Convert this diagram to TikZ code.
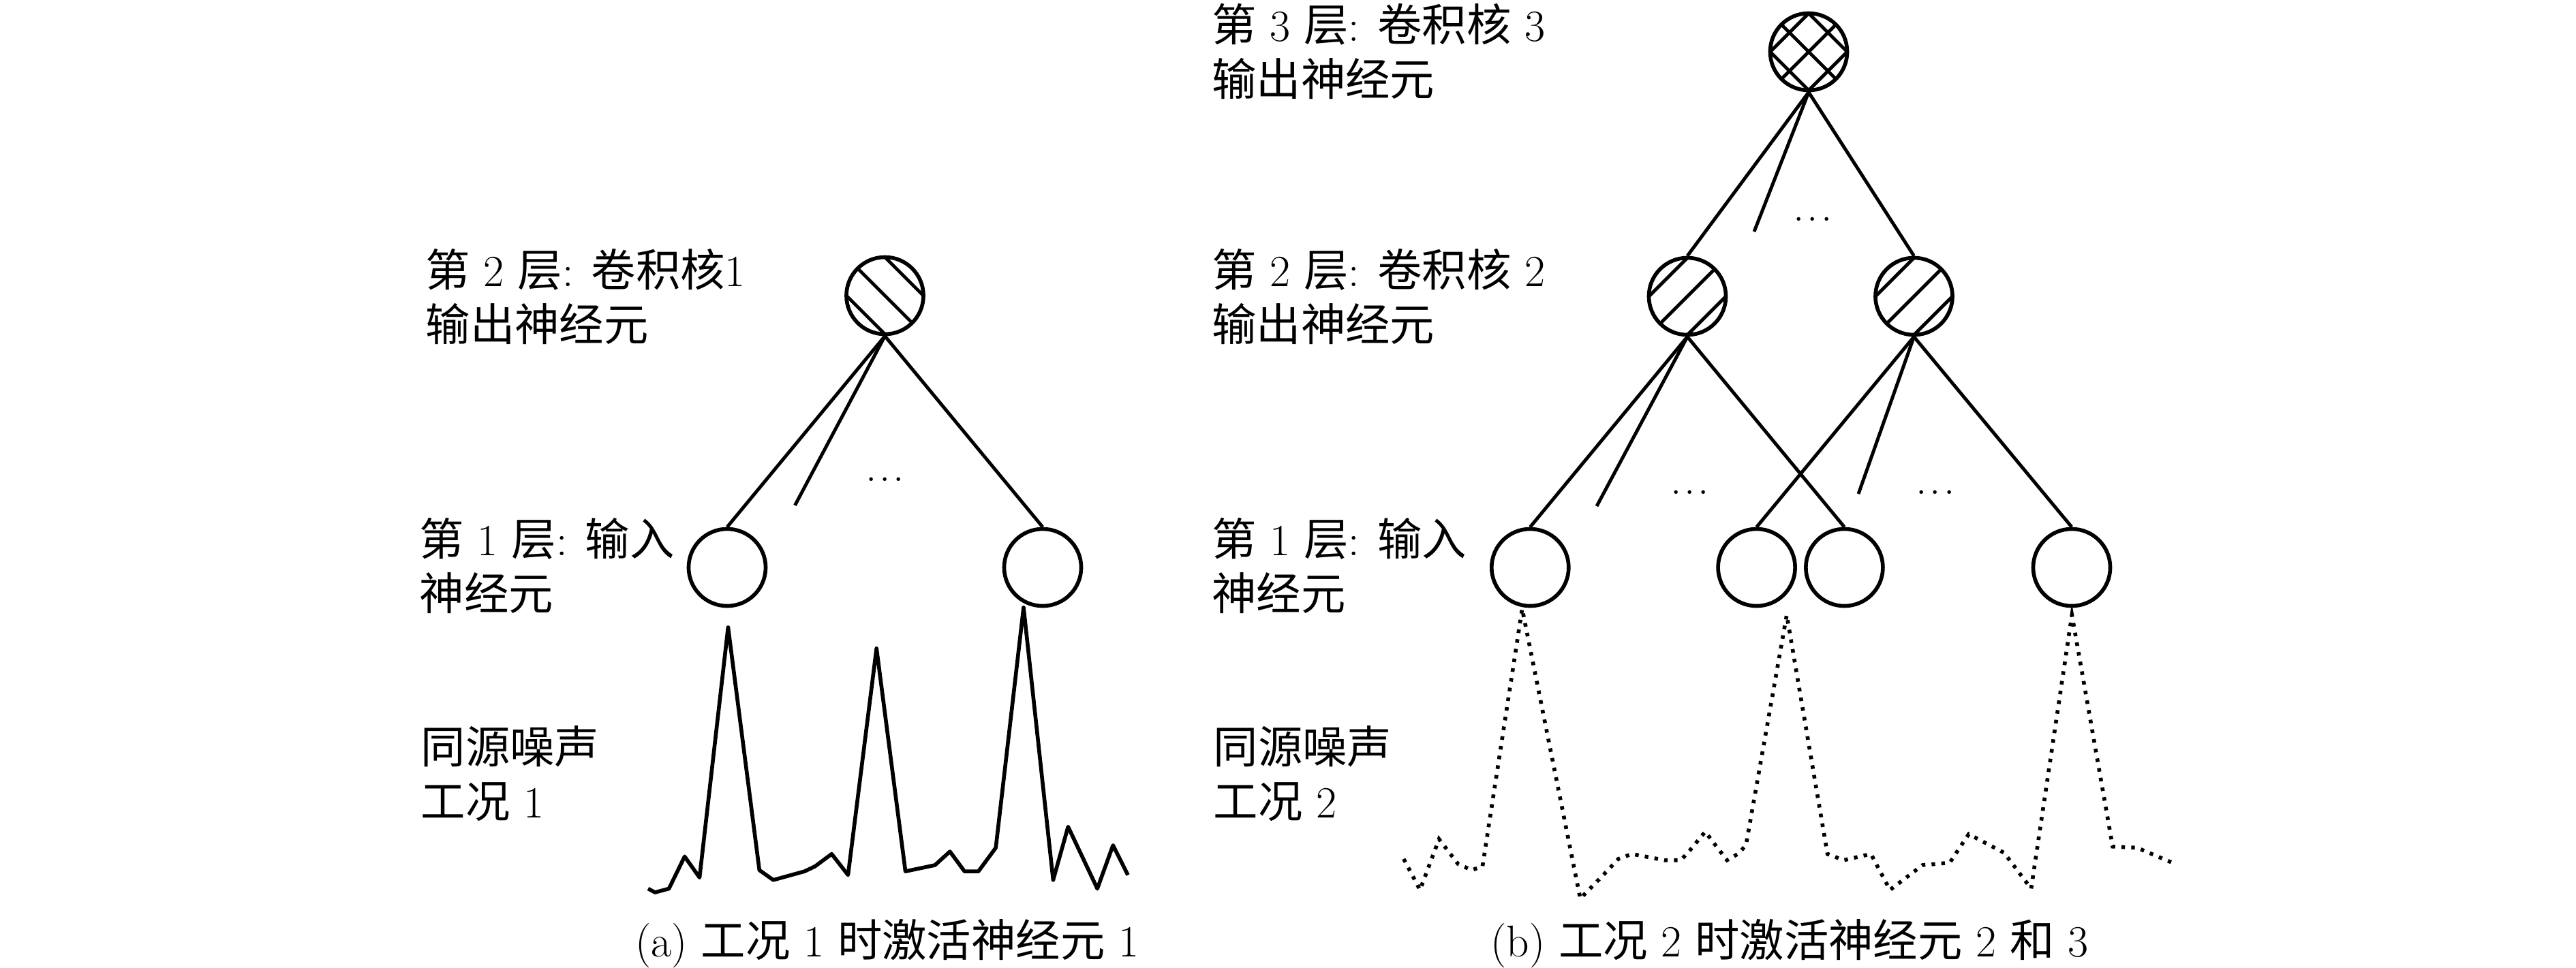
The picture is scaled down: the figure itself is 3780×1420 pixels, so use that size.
\documentclass[tikz,border=0pt]{standalone}
\usepackage{fontspec}
\newfontfamily\cjkfont{Noto Sans CJK SC}
\newcommand\zh[1]{{\cjkfont #1}}
\newcommand\lblfont{\fontsize{18.6pt}{22.8pt}\selectfont}
\newcommand\HatchBk[1]{%
  \begin{scope}[shift={(#1.center)}]
    \clip (0,0) circle (0.565cm);
    \draw[hatchline] (-120,-176.5) -- (120,63.5);
    \draw[hatchline] (-120,-120) -- (120,120);
    \draw[hatchline] (-120,-63.5) -- (120,176.5);
  \end{scope}}
\newcommand\HatchFw[1]{%
  \begin{scope}[shift={(#1.center)}]
    \clip (0,0) circle (0.565cm);
    \draw[hatchline] (-120,63.5) -- (120,-176.5);
    \draw[hatchline] (-120,120) -- (120,-120);
    \draw[hatchline] (-120,176.5) -- (120,-63.5);
  \end{scope}}
\begin{document}
\begin{tikzpicture}[x=0.01cm,y=-0.01cm,
  neuron/.style={circle,draw,line width=1.6pt,minimum size=1.13cm,inner sep=0pt},
  conn/.style={line width=1.4pt},
  hatchline/.style={line width=1.4pt},
  txt/.style={anchor=base west,inner sep=0pt,font=\lblfont},
  captext/.style={anchor=base,inner sep=0pt,font=\lblfont},
  dotsnode/.style={anchor=base,inner sep=0pt,font=\lblfont},
  sig/.style={line width=1.6pt,line join=round},
  sigdot/.style={line width=1.6pt,dash pattern=on 1.5pt off 2.6pt}]
\useasboundingbox (0,0) rectangle (3780,1420);

% ---------------- (a) ----------------
\node[neuron] (L2a) at (1298.5,434) {};
\node[neuron] (I1a) at (1067,833) {};
\node[neuron] (I2a) at (1530,833) {};
\HatchBk{L2a}
\coordinate (pa) at (1166.5,741.8);
\draw[conn] (L2a.south) -- (I1a.north);
\draw[conn] (L2a.south) -- (I2a.north);
\draw[conn] (L2a.south) -- (pa);
\node[dotsnode] (da) at (1298.7,706.6) {.\kern.06em.\kern.06em.};

\node[txt] (ta1) at (624,420) {\zh{第} 2 \zh{层}: \zh{卷积核}1};
\node[txt] (ta2) at (624,500) {\zh{输出神经元}};
\node[txt] (ta3) at (615,815) {\zh{第} 1 \zh{层}: \zh{输入}};
\node[txt] (ta4) at (615,895) {\zh{神经元}};
\node[txt] (ta5) at (617,1120) {\zh{同源噪声}};
\node[txt] (ta6) at (617,1200) {\zh{工况} 1};

\draw[sig] (951,1304.5) -- (961.2,1310) -- (981.6,1304.5) -- (1004.6,1257.3) -- (1026.5,1288.2)
  -- (1068.4,920.9) -- (1114.3,1277.3) -- (1134.7,1291.8) -- (1180.6,1279.1) -- (1195.9,1271.8)
  -- (1220.4,1253.6) -- (1244.4,1284.5) -- (1286.2,951.8) -- (1328.6,1279.1) -- (1371.9,1270)
  -- (1393.9,1250) -- (1415.3,1279.1) -- (1435.7,1279.1) -- (1461.2,1244.5) -- (1502,891.8)
  -- (1545.4,1291.8) -- (1567.3,1213.6) -- (1610.2,1304.5) -- (1633.2,1240.9) -- (1655.1,1284.5);

\node[captext] (capa) at (1302,1404) {(a) \zh{工况} 1 \zh{时激活神经元} 1};

% ---------------- (b) ----------------
\node[neuron] (L3) at (2654,76) {};
\node[neuron] (L2b) at (2476,435) {};
\node[neuron] (L2c) at (2808.5,435) {};
\node[neuron] (I1b) at (2245.3,833) {};
\node[neuron] (I2b) at (2577.6,833) {};
\node[neuron] (I3b) at (2706.4,833) {};
\node[neuron] (I4b) at (3040,833) {};
\HatchBk{L3}
\HatchFw{L3}
\HatchFw{L2b}
\HatchFw{L2c}
\coordinate (pb) at (2574,340);
\coordinate (pc) at (2343,743);
\coordinate (pd) at (2727,725);
\draw[conn] (L3.south) -- (L2b.north);
\draw[conn] (L3.south) -- (L2c.north);
\draw[conn] (L3.south) -- (pb);
\draw[conn] (L2b.south) -- (I1b.north);
\draw[conn] (L2b.south) -- (I3b.north);
\draw[conn] (L2b.south) -- (pc);
\draw[conn] (L2c.south) -- (I2b.north);
\draw[conn] (L2c.south) -- (I4b.north);
\draw[conn] (L2c.south) -- (pd);
\node[dotsnode] (db1) at (2660.2,324.4) {.\kern.06em.\kern.06em.};
\node[dotsnode] (db2) at (2479.7,725.6) {.\kern.06em.\kern.06em.};
\node[dotsnode] (db3) at (2840,725.6) {.\kern.06em.\kern.06em.};

\node[txt] (tb1) at (1777.5,60) {\zh{第} 3 \zh{层}: \zh{卷积核} 3};
\node[txt] (tb2) at (1777.5,140) {\zh{输出神经元}};
\node[txt] (tb3) at (1777.5,420) {\zh{第} 2 \zh{层}: \zh{卷积核} 2};
\node[txt] (tb4) at (1777.5,500) {\zh{输出神经元}};
\node[txt] (tb5) at (1777.5,815) {\zh{第} 1 \zh{层}: \zh{输入}};
\node[txt] (tb6) at (1777.5,895) {\zh{神经元}};
\node[txt] (tb7) at (1780,1120) {\zh{同源噪声}};
\node[txt] (tb8) at (1780,1200) {\zh{工况} 2};

\draw[sigdot] (2059.8,1260.9) -- (2083.7,1306.4) -- (2111.6,1231.8) -- (2139.5,1268.2) -- (2159.4,1277.3)
  -- (2175.4,1271.8) -- (2233.6,893.6) -- (2318.9,1319.1) -- (2350.8,1286.4) -- (2374.7,1260.9)
  -- (2394.6,1253.6) -- (2442.4,1262.7) -- (2466.4,1262.7) -- (2478.3,1250) -- (2502.2,1220.9)
  -- (2534.1,1262.7) -- (2550.1,1253.6) -- (2562,1240.9) -- (2621.8,902.7) -- (2681.6,1253.6)
  -- (2705.5,1262.7) -- (2745.4,1253.6) -- (2773.3,1306.4) -- (2821.1,1270) -- (2861,1266.4)
  -- (2888.9,1224.5) -- (2940.7,1251.8) -- (2980.5,1304.5) -- (3040.3,902.7) -- (3100.1,1242.7)
  -- (3136,1244.5) -- (3191.8,1268.2);

\node[captext] (capb) at (2626,1404) {(b) \zh{工况} 2 \zh{时激活神经元} 2 \zh{和} 3};
\end{tikzpicture}
\end{document}
